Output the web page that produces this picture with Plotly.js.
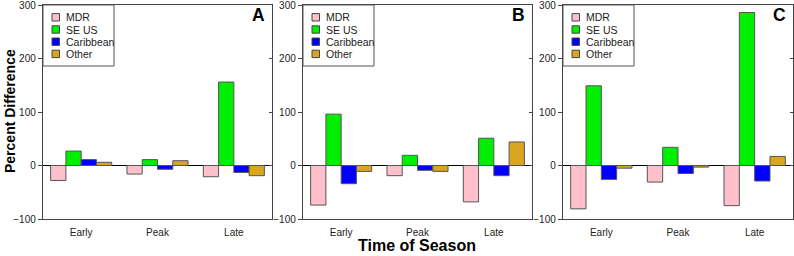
<!DOCTYPE html>
<html><head><meta charset="utf-8">
<script src="https://cdn.plot.ly/plotly-3.0.1.min.js"></script>
<style>html,body{margin:0;padding:0;background:#fff}</style>
</head><body><div id="chart" style="width:794px;height:256px"></div>
<script>
// ---- data ----
const categories = ['Early', 'Peak', 'Late'];
const seriesNames = ['MDR', 'SE US', 'Caribbean', 'Other'];
const seriesColors = ['#FFC0CB', '#00EE00', '#0000FF', '#DAA520'];
const panelLabels = ['A', 'B', 'C'];
const yTickVals = [-100, 0, 100, 200, 300];

const mdrA = [-28, -16, -21];
const seusA = [27, 11, 156];
const caribA = [11, -7, -13];
const otherA = [6, 9, -19];

const mdrB = [-74, -19, -68];
const seusB = [96, 19, 51];
const caribB = [-34, -9, -19];
const otherB = [-11, -11, 44];

const mdrC = [-81, -31, -75];
const seusC = [149, 34, 286];
const caribC = [-26, -15, -29];
const otherC = [-5, -3, 17];

const panels = [
  [mdrA, seusA, caribA, otherA],
  [mdrB, seusB, caribB, otherB],
  [mdrC, seusC, caribC, otherC]
];

// ---- layout geometry (pixels) ----
const W = 794, H = 256;
const MT = 0, MB = 0;
const panelX = [[43, 272], [303, 532], [563, 793]];
const plotTop = 5, plotBot = 219;
const px = v => v / W;
const py = v => 1 - (v - MT) / (H - MT - MB);
const FONT = 'Liberation Sans, Arial, Helvetica, sans-serif';
const AX = '#444';

const traces = [];
panels.forEach((series, p) => {
  const xa = p === 0 ? 'x' : 'x' + (p + 1);
  const ya = p === 0 ? 'y' : 'y' + (p + 1);
  series.forEach((vals, s) => {
    traces.push({
      type: 'bar', x: categories, y: vals, name: seriesNames[s],
      xaxis: xa, yaxis: ya, showlegend: false,
      marker: {color: seriesColors[s], line: {color: '#555', width: 1}},
      hoverinfo: 'skip'
    });
  });
});

const layout = {
  width: W, height: H,
  margin: {l: 0, r: 0, t: MT, b: MB, pad: 0},
  paper_bgcolor: '#fff', plot_bgcolor: '#fff',
  barmode: 'group', bargap: 0.2, bargroupgap: 0,
  font: {family: FONT, color: '#222', size: 10},
  showlegend: false,
  shapes: [], annotations: []
};

panelX.forEach((xr, p) => {
  const sfx = p === 0 ? '' : String(p + 1);
  const xa = 'x' + sfx, ya = 'y' + sfx;
  layout['xaxis' + sfx] = {
    domain: [px(xr[0]), px(xr[1])], anchor: ya, type: 'category',
    range: [-0.5, 2.5], showline: true, mirror: true, linecolor: AX, linewidth: 1.2,
    ticks: 'outside', ticklen: 4, tickcolor: 'rgba(0,0,0,0)', ticklabeloverflow: 'allow',
    showgrid: false, zeroline: false, tickfont: {size: 10, color: '#222'}, fixedrange: true
  };
  layout['yaxis' + sfx] = {
    domain: [py(plotBot), py(plotTop)], anchor: xa, range: [-100, 300],
    tickvals: yTickVals, ticks: 'outside', ticklen: 4, tickcolor: AX,
    ticklabeloverflow: 'allow',
    showline: true, mirror: true, linecolor: AX, linewidth: 1.2,
    zeroline: true, zerolinecolor: '#000', zerolinewidth: 1,
    showgrid: false, tickfont: {size: 10, color: '#222'}, fixedrange: true
  };
  // right-hand inward ticks
  const rsfx = String(p + 4);
  layout['yaxis' + rsfx] = {
    domain: [py(plotBot), py(plotTop)], anchor: xa, overlaying: ya, side: 'right',
    range: [-100, 300], tickvals: yTickVals, ticks: 'inside', ticklen: 3, tickcolor: AX,
    showticklabels: false, showline: false, zeroline: false, showgrid: false, fixedrange: true
  };
  traces.push({type: 'scatter', x: [categories[0]], y: [null], xaxis: xa, yaxis: 'y' + rsfx,
    showlegend: false, hoverinfo: 'skip', mode: 'markers'});

  // legend box
  const L = xr[0];
  layout.shapes.push({type: 'rect', xref: 'paper', yref: 'paper',
    x0: px(L), x1: px(L + 71), y0: py(66), y1: py(plotTop),
    line: {color: '#555', width: 1}, fillcolor: '#fff', layer: 'above'});
  seriesNames.forEach((nm, s) => {
    const cy = 17.3 + 12.2 * s;
    layout.shapes.push({type: 'rect', xref: 'paper', yref: 'paper',
      x0: px(L + 9), x1: px(L + 16.5), y0: py(cy + 3.7), y1: py(cy - 3.7),
      line: {color: '#444', width: 1}, fillcolor: seriesColors[s], layer: 'above'});
    layout.annotations.push({xref: 'paper', yref: 'paper', x: px(L + 21), y: py(cy),
      xanchor: 'left', yanchor: 'middle', text: nm, showarrow: false,
      font: {size: 10.5, color: '#222', family: FONT}});
  });
  // panel letter
  layout.annotations.push({xref: 'paper', yref: 'paper', x: px(xr[1] - 5), y: py(14.5),
    xanchor: 'right', yanchor: 'middle', text: '<b>' + panelLabels[p] + '</b>', showarrow: false,
    font: {size: 17.5, color: '#000', family: FONT}});
});

layout.annotations.push({xref: 'paper', yref: 'paper', x: px(10), y: py(111),
  xanchor: 'center', yanchor: 'middle', textangle: -90, text: '<b>Percent Difference</b>',
  showarrow: false, font: {size: 14, color: '#000', family: FONT}});
layout.annotations.push({xref: 'paper', yref: 'paper', x: px(417), y: py(245),
  xanchor: 'center', yanchor: 'middle', text: '<b>Time of Season</b>',
  showarrow: false, font: {size: 16, color: '#000', family: FONT}});

Plotly.newPlot('chart', traces, layout, {staticPlot: true, displayModeBar: false});
</script></body></html>
